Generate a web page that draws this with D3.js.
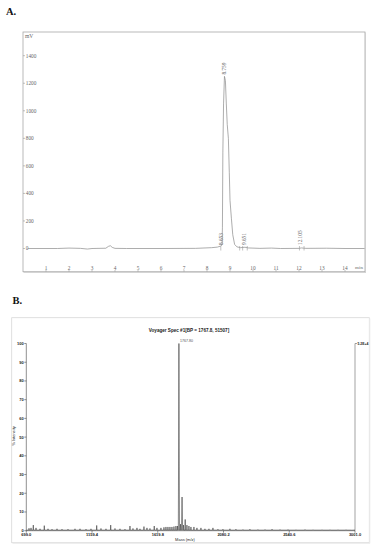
<!DOCTYPE html>
<html><head><meta charset="utf-8">
<script src="https://cdn.jsdelivr.net/npm/d3@7"></script>
<style>body{margin:0;background:#fff}svg{display:block}</style>
</head><body>
<svg id="c" width="378" height="550"></svg>
<script>
// ---------- Panel A: HPLC chromatogram ----------
const chromTime = [0.2,1.5,2.0,2.5,2.8,3.0,3.6,3.72,3.8,3.88,4.0,4.5,6.0,7.5,8.2,8.45,8.6,8.653,8.67,8.69,8.72,8.759,8.80,8.84,8.88,8.93,8.97,9.0,9.06,9.12,9.2,9.3,9.45,9.651,9.8,10.3,10.8,11.2,12.0,12.105,12.3,13.2,14.0,14.85];
const chromMV   = [0,0,3,1,-4,0,2,16,20,8,1,0,0,1,6,10,18,26,150,700,1050,1250,1220,1050,900,800,550,350,220,100,30,12,6,9,4,1,3,0,1,4,1,2,0,0];
const xTicksA = [1,2,3,4,5,6,7,8,9,10,11,12,13,14];
const yTicksA = [0,200,400,600,800,1000,1200,1400];
const peakTimes  = [8.653, 8.759, 9.651, 12.105];
const peakLabels = ["8.653", "8.759", "9.651", "12.105"];
const markerTimes = [8.6, 9.42, 9.55, 9.75, 12.02, 12.22];

// ---------- Panel B: MALDI-TOF spectrum ----------
const msMass = [718,732,748,767,795,825,851,879,914,949,991,1040,1075,1117,1152,1192,1222,1257,1290,1320,1355,1390,1425,1446,1474,1495,1523,1544,1565,1595,1614,1642,1663,1677,1691,1705,1719,1733,1747,1758,1767.8,1779,1789.8,1800,1811.8,1824,1838,1852,1873,1894,1922,1950,1978,2006,2041,2076,2125,2167,2216,2265,2321,2371,2420,2476,2532,2588,2651,2707,2770,2826,2882,2938,2980];
const msIntensity = [1.3,1.5,3,1.5,1,2.7,1,0.8,1,0.8,0.8,1,1,0.8,1,2.8,1.2,1,3,1.2,1,0.8,2.5,1.2,1.5,1,2.2,1.5,1.2,2.5,1.5,1.5,1.8,2,2,2,2,2.2,2.5,2.5,100,3.5,18,3,6,3,2.5,2,2,1.5,1.5,1,1,1.5,0.8,0.8,1,0.8,0.6,0.8,0.6,0.6,0.8,0.6,0.6,0.5,0.6,0.5,0.5,0.5,0.5,0.5,0.4];
const xTicksB = [699.0, 1159.4, 1619.8, 2080.2, 2540.6, 3001.0];
const yTicksB = [0,10,20,30,40,50,60,70,80,90,100];

const svg = d3.select("#c");

// ===== Panel A =====
svg.append("text").attr("x",6).attr("y",15).attr("font-family","Liberation Serif, serif")
  .attr("font-weight","bold").attr("font-size",10.5).attr("fill","#111").text("A.");

const xA = d3.scaleLinear().domain([0,14]).range([23,345]);
const yA = d3.scaleLinear().domain([0,1400]).range([248.5,55.7]);
const gA = svg.append("g").attr("font-family","Liberation Serif, serif").attr("fill","#666");

gA.append("rect").attr("x",23).attr("y",32).attr("width",342).attr("height",239.7)
  .attr("fill","none").attr("stroke","#a8a8a8").attr("stroke-width",0.8);
gA.append("line").attr("x1",365.5).attr("x2",365.5).attr("y1",32.5).attr("y2",272.2).attr("stroke","#cfcfcf").attr("stroke-width",1);
gA.append("line").attr("x1",23.5).attr("x2",366).attr("y1",272.4).attr("y2",272.4).attr("stroke","#cfcfcf").attr("stroke-width",1);

gA.append("text").attr("x",25).attr("y",38).attr("font-size",5.5).text("mV");
yTicksA.forEach(v=>{
  gA.append("line").attr("x1",23).attr("x2",25).attr("y1",yA(v)).attr("y2",yA(v)).attr("stroke","#999").attr("stroke-width",0.6);
  gA.append("text").attr("x",25.8).attr("y",yA(v)+1.8).attr("font-size",5.3).text(String(v));
});
xTicksA.forEach(v=>{
  gA.append("line").attr("x1",xA(v)).attr("x2",xA(v)).attr("y1",271.7).attr("y2",270).attr("stroke","#999").attr("stroke-width",0.6);
  gA.append("text").attr("x",xA(v)).attr("y",269.6).attr("text-anchor","middle").attr("font-size",5.3).text(v);
});
gA.append("text").attr("x",359).attr("y",268.6).attr("text-anchor","middle").attr("font-size",5).text("min");

const lineA = d3.line().x((d,i)=>xA(chromTime[i])).y(d=>yA(d));
gA.append("path").datum(chromMV).attr("d",lineA).attr("fill","none")
  .attr("stroke","#8a8a8a").attr("stroke-width",0.7);

markerTimes.forEach(t=>{
  gA.append("line").attr("x1",xA(t)).attr("x2",xA(t)).attr("y1",yA(0)-2.5).attr("y2",yA(0)+2).attr("stroke","#999").attr("stroke-width",0.6);
});
peakTimes.forEach((t,i)=>{
  const isMain = i===1;
  const x = xA(t)+ (isMain?1.5:0.8);
  const y = isMain ? 74.5 : 245;
  gA.append("text").attr("transform",`translate(${x},${y}) rotate(-90)`)
    .attr("font-size",5.3).attr("fill","#666").text(peakLabels[i]);
});

// ===== Panel B =====
svg.append("text").attr("x",12.5).attr("y",304).attr("font-family","Liberation Serif, serif")
  .attr("font-weight","bold").attr("font-size",10.5).attr("fill","#111").text("B.");

const xB = d3.scaleLinear().domain([699,3001]).range([26.3,355]);
const yB = d3.scaleLinear().domain([0,100]).range([530.7,343.5]);
const gB = svg.append("g").attr("font-family","Liberation Sans, Arial, sans-serif").attr("fill","#222");

gB.append("rect").attr("x",11.7).attr("y",317.7).attr("width",357.6).attr("height",225)
  .attr("fill","none").attr("stroke","#d8d8d8").attr("stroke-width",0.8);
gB.append("line").attr("x1",369.8).attr("x2",369.8).attr("y1",318.5).attr("y2",543.4).attr("stroke","#ececec").attr("stroke-width",1);
gB.append("line").attr("x1",12.5).attr("x2",370).attr("y1",543.4).attr("y2",543.4).attr("stroke","#ececec").attr("stroke-width",1);

gB.append("text").attr("x",189).attr("y",331.5).attr("text-anchor","middle").attr("font-size",4.6)
  .attr("font-weight","bold").text("Voyager Spec #1[BP = 1767.8, 51507]");

// axes lines
gB.append("line").attr("x1",xB(699)).attr("x2",xB(699)).attr("y1",yB(100)).attr("y2",yB(0)).attr("stroke","#444").attr("stroke-width",0.6);
gB.append("line").attr("x1",xB(3001)).attr("x2",xB(3001)).attr("y1",yB(100)).attr("y2",yB(0)).attr("stroke","#666").attr("stroke-width",0.6);
gB.append("line").attr("x1",xB(699)).attr("x2",xB(3001)).attr("y1",yB(0)).attr("y2",yB(0)).attr("stroke","#444").attr("stroke-width",0.6);
gB.append("line").attr("x1",xB(3001)).attr("x2",xB(3001)+2).attr("y1",yB(100)).attr("y2",yB(100)).attr("stroke","#666").attr("stroke-width",0.6);
gB.append("text").attr("x",xB(3001)+2.5).attr("y",yB(100)+1.3).attr("font-size",3.4).attr("font-weight","bold").text("5.2E+4");

yTicksB.forEach(v=>{
  gB.append("line").attr("x1",xB(699)-2).attr("x2",xB(699)).attr("y1",yB(v)).attr("y2",yB(v)).attr("stroke","#444").attr("stroke-width",0.6);
  gB.append("text").attr("x",xB(699)-2.6).attr("y",yB(v)+1.4).attr("text-anchor","end").attr("font-size",4).attr("font-weight","bold").text(v);
});
xTicksB.forEach(v=>{
  gB.append("line").attr("x1",xB(v)).attr("x2",xB(v)).attr("y1",yB(0)).attr("y2",yB(0)+2).attr("stroke","#444").attr("stroke-width",0.6);
  gB.append("text").attr("x",xB(v)).attr("y",536.3).attr("text-anchor","middle").attr("font-size",4).attr("font-weight","bold").text(v.toFixed(1));
});
gB.append("text").attr("x",185).attr("y",541.3).attr("text-anchor","middle").attr("font-size",4).text("Mass (m/z)");
gB.append("text").attr("transform","translate(15.3,436) rotate(-90)").attr("text-anchor","middle").attr("font-size",4).text("% Intensity");

// spectrum as profile path
const pts = [[699,0.3]];
msMass.forEach((m,i)=>{
  const h = msIntensity[i], w = h>10 ? 4 : 1.8;
  pts.push([m-w,0.3],[m,h],[m+w,0.3]);
});
pts.push([3001,0.3]);
const lineB = d3.line().x(d=>xB(d[0])).y(d=>yB(d[1]));
gB.append("path").datum(pts).attr("d",lineB).attr("fill","none").attr("stroke","#3a3a3a").attr("stroke-width",0.6);

gB.append("text").attr("x",xB(1767.8)+1).attr("y",341.5).attr("font-size",3.6).attr("fill","#555").text("1767.80");
</script>
</body></html>
